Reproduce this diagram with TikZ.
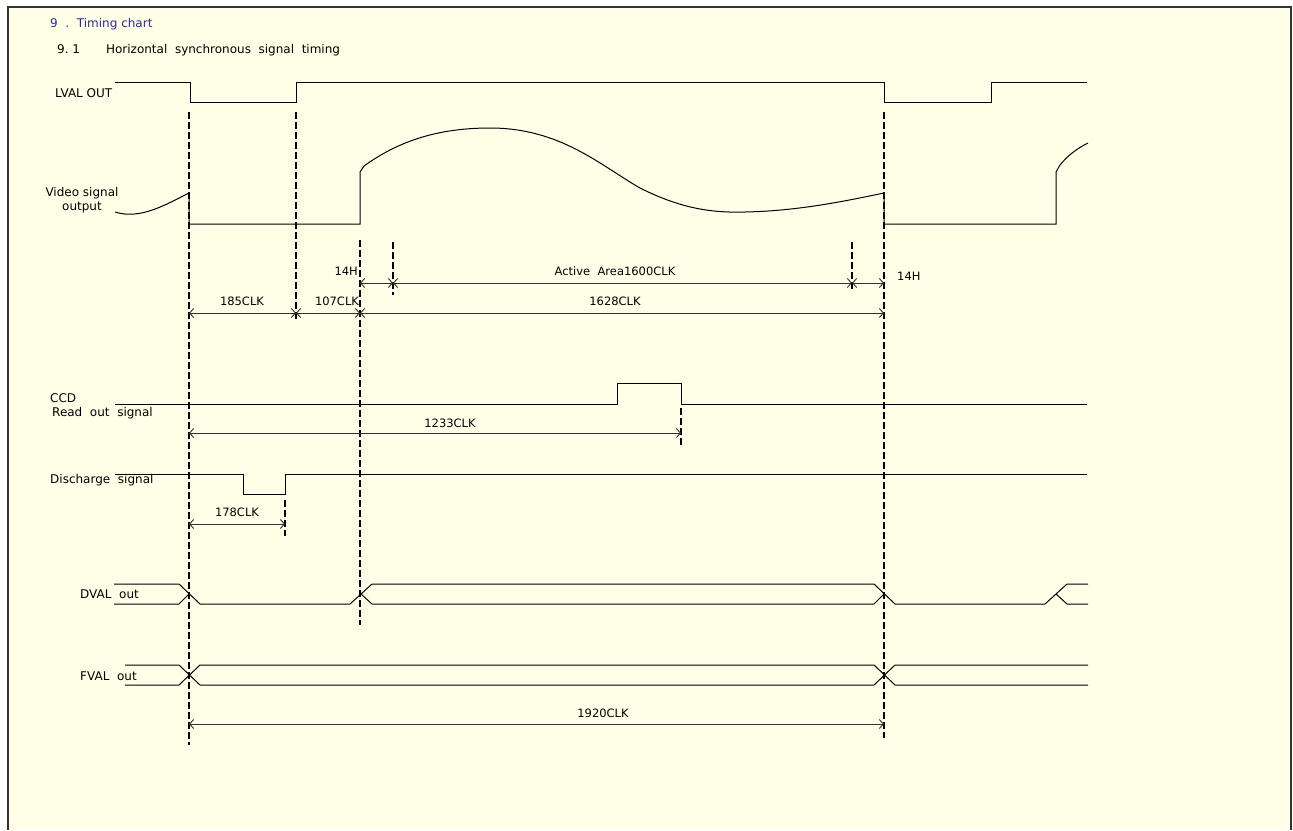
\documentclass[tikz,border=0pt]{standalone}
\usepackage{fontspec}
\setmainfont{DejaVu Sans}
\usetikzlibrary{arrows.meta}

\definecolor{paper}{HTML}{FFFFE8}
\definecolor{titleblue}{HTML}{2B2B9B}
\definecolor{wire}{HTML}{303030}

\begin{document}
\begin{tikzpicture}[
    x=1pt, y=-1pt,
    every node/.style={font=\fontsize{12}{14}\selectfont, inner sep=0pt},
    signal/.style={draw=black, line width=1pt},
    guide/.style={draw=black, line width=1.8pt, dash pattern=on 7pt off 3pt},
    thinguide/.style={draw=black, line width=1.1pt, dash pattern=on 7pt off 3pt},
    dim/.style={draw=wire, line width=0.9pt, {Straight Barb[length=4pt,width=9pt]}-{Straight Barb[length=4pt,width=9pt]}},
    siglabel/.style={anchor=west},
    dimlabel/.style={font=\fontsize{11.5}{13}\selectfont}
]

% Sheet
\useasboundingbox (0,0) rectangle (1293,830);
\fill[paper] (8,7) rectangle (1291,830);
\draw[line width=1.6pt, draw=black!80] (8,830) -- (8,7) -- (1291,7) -- (1291,830);

% Headings
\node[anchor=west, text=titleblue] (title) at (50,24) {9\ \ .\ \ Timing chart};
\node[anchor=west] (subtitle) at (57,50) {9.\ 1\hspace{26pt}Horizontal\ \ synchronous\ \ signal\ \ timing};

% Signal names
\node[siglabel] (lval) at (55,93) {LVAL OUT};
\node[align=center] (video) at (82,200) {Video signal\\output};
\node[siglabel] (ccd) at (50,398) {CCD};
\node[siglabel] (readout) at (52,413) {Read\ \ out\ \ signal};
\node[siglabel] (discharge) at (50,480) {Discharge\ \ signal};
\node[siglabel] (dval) at (80,594) {DVAL\ \ out};
\node[siglabel] (fval) at (80,676) {FVAL\ \ out};

% Waveforms
\draw[signal] (115,82) -- (190,82) -- (190,102) -- (296,102) -- (296,82) -- (884,82)
    -- (884,102) -- (991,102) -- (991,82) -- (1087,82); % LVAL

\draw[signal] (115,212) .. controls (140,220) and (165,205) .. (189,193); % video
\draw[signal] (189,193) -- (189,224) -- (360,224) -- (360,172) -- (364,166)
    .. controls (400,140) and (440,128) .. (490,128)
    .. controls (560,128) and (600,165) .. (640,188)
    .. controls (680,208) and (710,213) .. (745,212)
    .. controls (800,211) and (850,200) .. (884,193);
\draw[signal] (884,193) -- (884,224) -- (1056,224) -- (1056,172) -- (1060,165)
    .. controls (1068,155) and (1078,148) .. (1088,143);

\draw[signal] (115,404) -- (617,404) -- (617,383) -- (681,383) -- (681,404) -- (1087,404); % CCD
\draw[signal] (115,474) -- (243,474) -- (243,494) -- (285,494) -- (285,474) -- (1087,474); % discharge

\draw[signal] (114,584) -- (179,584) -- (200,604) -- (350,604) -- (372,584) -- (874,584)
    -- (895,604) -- (1045,604) -- (1067,584) -- (1088,584); % DVAL
\draw[signal] (114,604) -- (179,604) -- (189,594);
\draw[signal] (361,594) -- (372,604) -- (874,604) -- (884,594);
\draw[signal] (1056,594) -- (1067,604) -- (1088,604);

\draw[signal] (125,665) -- (179,665) -- (200,685) -- (874,685) -- (895,665) -- (1088,665); % FVAL
\draw[signal] (125,685) -- (179,685) -- (200,665) -- (874,665) -- (895,685) -- (1088,685);

% Timing guides
\draw[guide] (189,112) -- (189,745);
\draw[guide] (296,112) -- (296,320);
\draw[guide] (360,240) -- (360,625);
\draw[thinguide] (393,242) -- (393,295);
\draw[guide] (852,242) -- (852,292);
\draw[guide] (884,112) -- (884,738);
\draw[thinguide] (681,408) -- (681,446);
\draw[guide] (285,500) -- (285,536);

% Dimension points
\coordinate (h0) at (360,283);
\coordinate (h1) at (393,283);
\coordinate (h2) at (852,283);
\coordinate (h3) at (884,283);
\coordinate (c0) at (189,313);
\coordinate (c1) at (296,313);
\coordinate (c2) at (360,313);
\coordinate (c3) at (884,313);
\coordinate (r0) at (189,433);
\coordinate (r1) at (681,433);
\coordinate (d0) at (189,524);
\coordinate (d1) at (285,524);
\coordinate (f0) at (189,724);
\coordinate (f1) at (884,724);

% Dimensions
\path[dim] (h0) -- (h1);
\path[dim] (h1) -- (h2);
\path[dim] (h2) -- (h3);
\path[dim] (c0) -- (c1);
\path[dim] (c1) -- (c2);
\path[dim] (c2) -- (c3);
\path[dim] (r0) -- (r1);
\path[dim] (d0) -- (d1);
\path[dim] (f0) -- (f1);

\node[dimlabel, anchor=east] (hleft) at (358,271) {14H};
\node[dimlabel] (active) at (615,271) {Active\ \ Area1600CLK};
\node[dimlabel, anchor=west] (hright) at (897,276) {14H};
\node[dimlabel] (clk185) at (242,301) {185CLK};
\node[dimlabel] (clk107) at (337,301) {107CLK};
\node[dimlabel] (clk1628) at (615,301) {1628CLK};
\node[dimlabel] (clk1233) at (450,423) {1233CLK};
\node[dimlabel] (clk178) at (237,512) {178CLK};
\node[dimlabel] (clk1920) at (603,713) {1920CLK};

\end{tikzpicture}
\end{document}
